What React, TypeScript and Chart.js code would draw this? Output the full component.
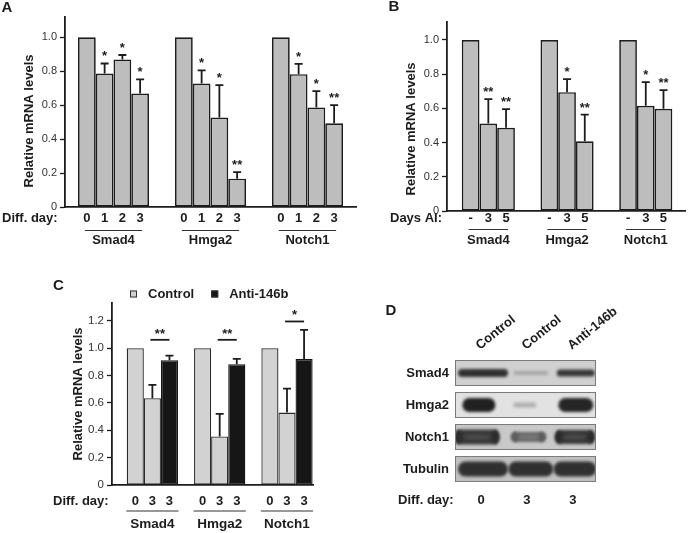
import React, { useEffect, useRef } from "react";
import { Chart, registerables } from "chart.js";
Chart.register(...registerables);

const FONT = "'Liberation Sans', Arial, Helvetica, sans-serif";
const INK = "#1c1c1c";

// ---------------- Panel A data ----------------
const genesA = ["Smad4", "Hmga2", "Notch1"];
const daysA = ["0", "1", "2", "3"];
const valuesA = [
  [1.0, 1.0, 1.0],
  [0.787, 0.728, 0.783],
  [0.87, 0.528, 0.587],
  [0.669, 0.167, 0.494],
];
const errorsA = [
  [0, 0, 0],
  [0.059, 0.077, 0.061],
  [0.026, 0.191, 0.096],
  [0.083, 0.038, 0.106],
];
const starsA = [
  ["", "", ""],
  ["*", "*", "*"],
  ["*", "*", "*"],
  ["*", "**", "**"],
];
const yTicksA = [0, 0.2, 0.4, 0.6, 0.8, 1.0];

// ---------------- Panel B data ----------------
const genesB = ["Smad4", "Hmga2", "Notch1"];
const daysB = ["-", "3", "5"];
const valuesB = [
  [1.0, 1.0, 1.0],
  [0.512, 0.695, 0.615],
  [0.486, 0.408, 0.598],
];
const errorsB = [
  [0, 0, 0],
  [0.142, 0.076, 0.139],
  [0.11, 0.156, 0.109],
];
const starsB = [
  ["", "", ""],
  ["**", "*", "*"],
  ["**", "**", "**"],
];
const yTicksB = [0, 0.2, 0.4, 0.6, 0.8, 1.0];

// ---------------- Panel C data ----------------
const genesC = ["Smad4", "Hmga2", "Notch1"];
const seriesC = ["Control", "Control", "Anti-146b"];
const daysC = ["0", "3", "3"];
const valuesC = [
  [1.0, 1.0, 1.0],
  [0.634, 0.354, 0.529],
  [0.912, 0.883, 0.92],
];
const errorsC = [
  [0, 0, 0],
  [0.098, 0.166, 0.176],
  [0.034, 0.039, 0.214],
];
const sigLevelC = [1.061, 1.061, 1.195];
const sigStarsC = ["**", "**", "*"];
const yTicksC = [0, 0.2, 0.4, 0.6, 0.8, 1.0, 1.2];

// ---------------- Panel D data ----------------
const lanesD = ["Control", "Control", "Anti-146b"];
const daysD = ["0", "3", "3"];
const proteinsD = ["Smad4", "Hmga2", "Notch1", "Tubulin"];
const bandDarknessD = [
  [0.9, 0.32, 0.86],
  [0.97, 0.28, 0.95],
  [0.86, 0.62, 0.86],
  [0.9, 0.9, 0.9],
];

// ---------------- helpers ----------------
function txt(
  ctx: CanvasRenderingContext2D,
  s: string,
  x: number,
  y: number,
  font: string,
  align: CanvasTextAlign = "center",
  baseline: CanvasTextBaseline = "middle",
  color = INK
) {
  ctx.font = font;
  ctx.textAlign = align;
  ctx.textBaseline = baseline;
  ctx.fillStyle = color;
  ctx.fillText(s, x, y);
}

type BarCfg = {
  key: string;
  left: number;
  top: number;
  width: number;
  height: number;
  area: { left: number; top: number; right: number; bottom: number };
  xMin: number;
  xMax: number;
  yMax: number;
  catPct: number;
  genes: string[];
  days: string[];
  series?: string[];
  values: number[][];
  errors: number[][];
  stars?: string[][];
  yTicks: number[];
  fills: string[];
  borders: string[];
  borderW: number;
  dayLabel: string;
  dayLabelX: number;
  dayY: number;
  underlineY: number;
  underlineExt: number;
  geneY: number;
  geneSize: number;
  daySize: number;
  tickSize: number;
  titleX: number;
  titleY: number;
  letter: string;
  letterX: number;
  letterY: number;
  capHalf: number;
  sig?: { levels: number[]; stars: string[] };
  legend?: { x: number; y: number };
};

function makeAnnot(cfg: BarCfg) {
  return {
    id: "annot" + cfg.key,
    afterDatasetsDraw(chart: any) {
      const ctx: CanvasRenderingContext2D = chart.ctx;
      const ys = chart.scales.y;
      const n = chart.data.datasets.length;
      const bold = (s: number) => `bold ${s}px ${FONT}`;
      ctx.save();
      for (let k = 0; k < n; k++) {
        const meta = chart.getDatasetMeta(k);
        meta.data.forEach((el: any, i: number) => {
          const v = cfg.values[k][i];
          const e = cfg.errors[k][i];
          const x = el.x;
          const yTop = ys.getPixelForValue(v + e);
          if (e > 0) {
            ctx.strokeStyle = INK;
            ctx.lineWidth = 1.8;
            ctx.beginPath();
            ctx.moveTo(x, el.y);
            ctx.lineTo(x, yTop);
            ctx.moveTo(x - cfg.capHalf, yTop);
            ctx.lineTo(x + cfg.capHalf, yTop);
            ctx.stroke();
          }
          const s = cfg.stars ? cfg.stars[k][i] : "";
          if (s) txt(ctx, s, x, yTop - 3, bold(13), "center", "alphabetic");
          txt(ctx, cfg.days[k], x, cfg.dayY, bold(cfg.daySize));
        });
      }
      // underlines under each gene group
      const m0 = chart.getDatasetMeta(0);
      const mL = chart.getDatasetMeta(n - 1);
      ctx.strokeStyle = "#333";
      ctx.lineWidth = 1.1;
      cfg.genes.forEach((_, i) => {
        const x1 = (m0.data[i] as any).x - cfg.underlineExt;
        const x2 = (mL.data[i] as any).x + cfg.underlineExt;
        ctx.beginPath();
        ctx.moveTo(x1, cfg.underlineY);
        ctx.lineTo(x2, cfg.underlineY);
        ctx.stroke();
      });
      // significance brackets
      if (cfg.sig) {
        const mA = chart.getDatasetMeta(1);
        const mB = chart.getDatasetMeta(2);
        cfg.genes.forEach((_, i) => {
          const x1 = (mA.data[i] as any).x - 2;
          const x2 = (mB.data[i] as any).x;
          const ly = ys.getPixelForValue(cfg.sig!.levels[i]);
          ctx.strokeStyle = INK;
          ctx.lineWidth = 1.8;
          ctx.beginPath();
          ctx.moveTo(x1, ly);
          ctx.lineTo(x2, ly);
          ctx.stroke();
          txt(ctx, cfg.sig!.stars[i], (x1 + x2) / 2, ly - 2, bold(13), "center", "alphabetic");
        });
      }
      // legend
      if (cfg.legend && cfg.series) {
        let x = cfg.legend.x;
        const y = cfg.legend.y;
        const seen: string[] = [];
        cfg.series.forEach((name, k) => {
          if (seen.includes(name)) return;
          seen.push(name);
          ctx.fillStyle = cfg.fills[k];
          ctx.fillRect(x, y - 3.5, 7, 7);
          ctx.strokeStyle = "#333";
          ctx.lineWidth = 1;
          ctx.strokeRect(x + 0.5, y - 3, 6, 6);
          ctx.font = bold(13);
          txt(ctx, name, x + 18, y, bold(13), "left");
          x += 18 + ctx.measureText(name).width + 17;
        });
      }
      // day label
      txt(ctx, cfg.dayLabel, cfg.dayLabelX, cfg.dayY, bold(13), "left");
      // y title
      ctx.save();
      ctx.translate(cfg.titleX, cfg.titleY);
      ctx.rotate(-Math.PI / 2);
      txt(ctx, "Relative mRNA levels", 0, 0, bold(13));
      ctx.restore();
      // panel letter
      txt(ctx, cfg.letter, cfg.letterX, cfg.letterY, bold(15));
      ctx.restore();
    },
  };
}

function BarPanel({ cfg }: { cfg: BarCfg }) {
  const ref = useRef<HTMLCanvasElement>(null);
  useEffect(() => {
    if (!ref.current) return;
    const geneLine = cfg.geneSize * 1.2;
    const chart = new Chart(ref.current, {
      type: "bar",
      data: {
        datasets: cfg.values.map((vals, k) => ({
          label: cfg.series ? cfg.series[k] : cfg.days[k],
          data: vals.map((v, i) => ({ x: i, y: v })),
          backgroundColor: cfg.fills[k],
          borderColor: cfg.borders[k],
          borderWidth: cfg.borderW,
          borderSkipped: false,
          inflateAmount: 0,
          barPercentage: 1,
          categoryPercentage: cfg.catPct,
        })) as any,
      },
      options: {
        responsive: false,
        animation: false,
        events: [],
        layout: {
          padding: { left: 0, top: cfg.area.top, right: cfg.width - cfg.area.right, bottom: 0 },
        },
        plugins: { legend: { display: false }, tooltip: { enabled: false } },
        scales: {
          x: {
            type: "linear",
            offset: false,
            min: cfg.xMin,
            max: cfg.xMax,
            grid: { display: false, drawTicks: false, offset: false },
            border: { display: true, color: INK, width: 1.8, z: 1 },
            afterBuildTicks: (s: any) => {
              s.ticks = cfg.genes.map((_, i) => ({ value: i }));
            },
            afterFit: (s: any) => {
              s.height = cfg.height - cfg.area.bottom;
            },
            ticks: {
              autoSkip: false,
              maxRotation: 0,
              minRotation: 0,
              padding: cfg.geneY - cfg.area.bottom - geneLine / 2,
              color: INK,
              font: { family: FONT, size: cfg.geneSize, weight: "bold" },
              callback: (v: any) => cfg.genes[Math.round(Number(v))] ?? "",
            },
          },
          y: {
            type: "linear",
            min: 0,
            max: cfg.yMax,
            afterBuildTicks: (s: any) => {
              s.ticks = cfg.yTicks.map((v) => ({ value: v }));
            },
            afterFit: (s: any) => {
              s.width = cfg.area.left;
            },
            grid: {
              display: true,
              drawOnChartArea: false,
              drawTicks: true,
              tickLength: 5,
              tickColor: INK,
              tickWidth: 1.3,
            },
            border: { display: true, color: INK, width: 1.8 },
            ticks: {
              padding: 3,
              color: "#333",
              font: { family: FONT, size: cfg.tickSize },
              callback: (v: any) => (Number(v) === 0 ? "0" : Number(v).toFixed(1)),
            },
          },
        },
      } as any,
      plugins: [makeAnnot(cfg)],
    });
    return () => chart.destroy();
  }, []);
  return (
    <canvas
      ref={ref}
      width={cfg.width}
      height={cfg.height}
      style={{ position: "absolute", left: cfg.left, top: cfg.top, width: cfg.width, height: cfg.height }}
    />
  );
}

const cfgA: BarCfg = {
  key: "A",
  left: 0,
  top: 0,
  width: 362,
  height: 258,
  area: { left: 65, top: 17, right: 356, bottom: 207 },
  xMin: -0.5,
  xMax: 2.5,
  yMax: 1.12,
  catPct: 0.732,
  genes: genesA,
  days: daysA,
  values: valuesA,
  errors: errorsA,
  stars: starsA,
  yTicks: yTicksA,
  fills: ["#bdbdbd", "#bdbdbd", "#bdbdbd", "#bdbdbd"],
  borders: [INK, INK, INK, INK],
  borderW: 1.7,
  dayLabel: "Diff. day:",
  dayLabelX: 2,
  dayY: 218,
  underlineY: 230.5,
  underlineExt: 2,
  geneY: 240.5,
  geneSize: 13,
  daySize: 13,
  tickSize: 11,
  titleX: 29.5,
  titleY: 121,
  letter: "A",
  letterX: 7,
  letterY: 8,
  capHalf: 4,
};

const cfgB: BarCfg = {
  key: "B",
  left: 360,
  top: 0,
  width: 329,
  height: 258,
  area: { left: 87, top: 22, right: 329, bottom: 211 },
  xMin: -0.525,
  xMax: 2.5,
  yMax: 1.105,
  catPct: 0.675,
  genes: genesB,
  days: daysB,
  values: valuesB,
  errors: errorsB,
  stars: starsB,
  yTicks: yTicksB,
  fills: ["#bdbdbd", "#bdbdbd", "#bdbdbd"],
  borders: [INK, INK, INK],
  borderW: 1.7,
  dayLabel: "Days AI:",
  dayLabelX: 30,
  dayY: 218,
  underlineY: 229.5,
  underlineExt: 2,
  geneY: 240,
  geneSize: 13,
  daySize: 13,
  tickSize: 11,
  titleX: 51.5,
  titleY: 129,
  letter: "B",
  letterX: 34,
  letterY: 7,
  capHalf: 4,
};

const cfgC: BarCfg = {
  key: "C",
  left: 0,
  top: 270,
  width: 345,
  height: 263,
  area: { left: 112, top: 33, right: 317, bottom: 215 },
  xMin: -0.6,
  xMax: 2.4,
  yMax: 1.33,
  catPct: 0.762,
  genes: genesC,
  days: daysC,
  series: seriesC,
  values: valuesC,
  errors: errorsC,
  yTicks: yTicksC,
  fills: ["#d2d2d2", "#d2d2d2", "#161616"],
  borders: ["#2a2a2a", "#2a2a2a", "#161616"],
  borderW: 1.3,
  dayLabel: "Diff. day:",
  dayLabelX: 53,
  dayY: 231,
  underlineY: 241,
  underlineExt: 9,
  geneY: 254.5,
  geneSize: 13.5,
  daySize: 13,
  tickSize: 11.5,
  titleX: 78,
  titleY: 124,
  letter: "C",
  letterX: 58.5,
  letterY: 16,
  capHalf: 4,
  sig: { levels: sigLevelC, stars: sigStarsC },
  legend: { x: 130, y: 24 },
};

// ---------------- Panel D (blot) ----------------
const BLOT = {
  left: 345,
  top: 270,
  width: 344,
  height: 263,
  pad: { left: 110, right: 93, top: 87, bottom: 48 },
  boxFill: ["#d0d0d0", "#e2e2e2", "#c9c9c9", "#c2c2c2"],
  bandWidth: [
    [1.09, 0.76, 0.83],
    [0.72, 0.5, 0.76],
    [0.98, 0.76, 0.87],
    [1.09, 0.98, 0.93],
  ],
  bandShift: [
    [0, 0.04, 0.02],
    [-0.09, -0.09, 0.02],
    [-0.13, -0.01, 0],
    [0, 0.04, 0],
  ],
  bandThick: [
    [8, 4, 7],
    [14, 5, 14],
    [15, 10, 14],
    [15, 15, 15],
  ],
  edges: [false, false, true, false],
};

const blotPlugin = {
  id: "blot",
  afterDraw(chart: any) {
    const ctx: CanvasRenderingContext2D = chart.ctx;
    const xs = chart.scales.x;
    const ys = chart.scales.y;
    const a = chart.chartArea;
    const rowH = (a.bottom - a.top) / proteinsD.length;
    const unit = xs.getPixelForValue(1) - xs.getPixelForValue(0);
    const bold = (s: number) => `bold ${s}px ${FONT}`;
    ctx.save();
    proteinsD.forEach((p, r) => {
      const yc = ys.getPixelForValue(r);
      const bh = rowH * 0.81;
      const bx = a.left;
      const bw = a.right - a.left;
      const by = yc - bh / 2;
      ctx.fillStyle = BLOT.boxFill[r];
      ctx.fillRect(bx, by, bw, bh);
      ctx.save();
      ctx.beginPath();
      ctx.rect(bx, by, bw, bh);
      ctx.clip();
      bandDarknessD[r].forEach((d, l) => {
        const xc = xs.getPixelForValue(l + BLOT.bandShift[r][l]);
        const w = BLOT.bandWidth[r][l] * unit;
        const th = BLOT.bandThick[r][l];
        const g = Math.round(232 - d * 205);
        ctx.filter = "blur(1.5px)";
        ctx.fillStyle = `rgb(${g},${g},${g})`;
        ctx.beginPath();
        (ctx as any).roundRect(xc - w / 2, yc - th / 2, w, th, th / 2);
        ctx.fill();
        if (BLOT.edges[r]) {
          const ge = Math.max(0, g - 12);
          ctx.fillStyle = `rgb(${ge},${ge},${ge})`;
          ctx.beginPath();
          ctx.ellipse(xc - w / 2 + 4, yc, 3.5, th / 2, 0, 0, Math.PI * 2);
          ctx.ellipse(xc + w / 2 - 4, yc, 3.5, th / 2, 0, 0, Math.PI * 2);
          ctx.fill();
          const gm = Math.min(255, g + 18);
          ctx.fillStyle = `rgb(${gm},${gm},${gm})`;
          ctx.beginPath();
          ctx.ellipse(xc, yc, w * 0.3, th * 0.18, 0, 0, Math.PI * 2);
          ctx.fill();
        }
        ctx.filter = "none";
      });
      ctx.restore();
      ctx.strokeStyle = "#7a7a7a";
      ctx.lineWidth = 1;
      ctx.strokeRect(bx + 0.5, by + 0.5, bw - 1, bh - 1);
      txt(ctx, p, a.left - 6, yc, bold(13), "right");
    });
    // lane labels (rotated)
    lanesD.forEach((name, l) => {
      const x = xs.getPixelForValue(l) - 3;
      ctx.save();
      ctx.translate(x, a.top - 7);
      ctx.rotate(-0.68);
      txt(ctx, name, 0, 0, bold(13), "left", "alphabetic");
      ctx.restore();
    });
    // days
    txt(ctx, "Diff. day:", 53, 230, bold(13), "left");
    daysD.forEach((d, l) => {
      txt(ctx, d, xs.getPixelForValue(l) - 2, 230, bold(13));
    });
    txt(ctx, "D", 46, 41, bold(15));
    ctx.restore();
  },
};

function BlotPanel() {
  const ref = useRef<HTMLCanvasElement>(null);
  useEffect(() => {
    if (!ref.current) return;
    const chart = new Chart(ref.current, {
      type: "scatter",
      data: { labels: proteinsD, datasets: [] },
      options: {
        responsive: false,
        animation: false,
        events: [],
        layout: { padding: BLOT.pad },
        plugins: { legend: { display: false }, tooltip: { enabled: false } },
        scales: {
          x: { type: "linear", min: -0.61, max: 2.46, display: false },
          y: { type: "category", labels: proteinsD, offset: true, display: false },
        },
      } as any,
      plugins: [blotPlugin],
    });
    return () => chart.destroy();
  }, []);
  return (
    <canvas
      ref={ref}
      width={BLOT.width}
      height={BLOT.height}
      style={{ position: "absolute", left: BLOT.left, top: BLOT.top, width: BLOT.width, height: BLOT.height }}
    />
  );
}

export default function App() {
  return (
    <div
      style={{
        position: "absolute",
        left: 0,
        top: 0,
        width: 689,
        height: 533,
        background: "#ffffff",
        overflow: "hidden",
      }}
    >
      <BarPanel cfg={cfgA} />
      <BarPanel cfg={cfgB} />
      <BarPanel cfg={cfgC} />
      <BlotPanel />
    </div>
  );
}
